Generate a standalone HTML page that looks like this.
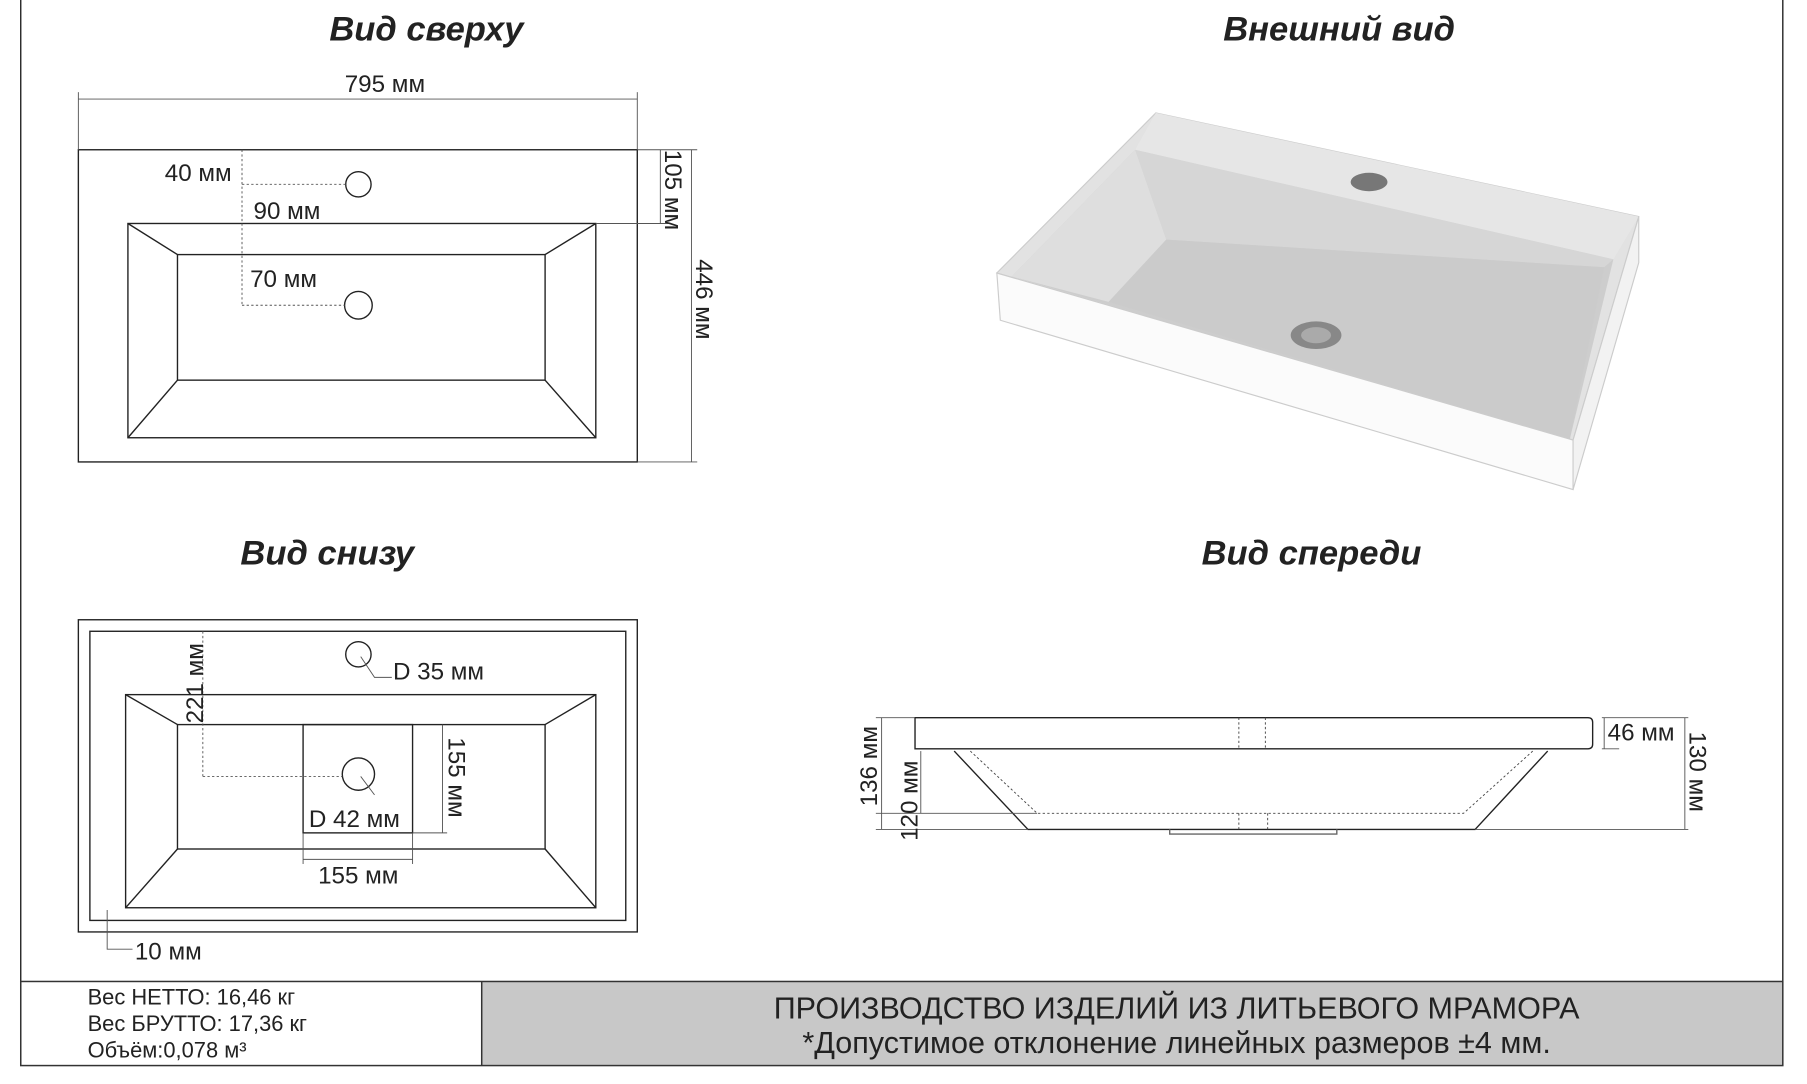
<!DOCTYPE html>
<html><head><meta charset="utf-8"><style>
html,body{margin:0;padding:0;background:#fff;}
svg{display:block;}
text{font-family:"Liberation Sans",sans-serif;fill:#222;}
.t{font-size:30px;font-weight:bold;font-style:italic;}
.d{font-size:21px;}
</style></head><body>
<svg width="1807" height="1084" viewBox="0 0 1568 941" preserveAspectRatio="none" xmlns="http://www.w3.org/2000/svg">
<g fill="none" stroke="#222" stroke-width="1.2">
<line x1="18" y1="0" x2="18" y2="925"/><line x1="1547" y1="0" x2="1547" y2="925"/>
</g>
<rect x="418" y="852" width="1129" height="73" fill="#c8c8c8"/>
<g fill="none" stroke="#333" stroke-width="1.3">
<rect x="18" y="852" width="1529" height="73"/><line x1="418" y1="852" x2="418" y2="925"/>
</g>
<text class="t" x="370" y="35" text-anchor="middle">Вид сверху</text>
<text class="t" x="1162" y="35" text-anchor="middle">Внешний вид</text>
<text class="t" x="284" y="490" text-anchor="middle">Вид снизу</text>
<text class="t" x="1138" y="490" text-anchor="middle">Вид спереди</text>
<!-- top view -->
<g fill="none" stroke="#222" stroke-width="1.2">
<rect x="68" y="130" width="485" height="271"/>
<rect x="111" y="194" width="406" height="186"/>
<rect x="154" y="221" width="319" height="109"/>
<line x1="111" y1="194" x2="154" y2="221"/><line x1="517" y1="194" x2="473" y2="221"/>
<line x1="111" y1="380" x2="154" y2="330"/><line x1="517" y1="380" x2="473" y2="330"/>
<circle cx="311" cy="160" r="11"/><circle cx="311" cy="265" r="12"/>
</g>
<g stroke="#555" stroke-width="0.8" fill="none">
<line x1="68" y1="80" x2="68" y2="130"/><line x1="553" y1="80" x2="553" y2="130"/><line x1="68" y1="86" x2="553" y2="86"/>
<line x1="553" y1="130" x2="605" y2="130"/><line x1="517" y1="194" x2="580" y2="194"/><line x1="553" y1="401" x2="605" y2="401"/>
<line x1="573" y1="130" x2="573" y2="194"/><line x1="600" y1="130" x2="600" y2="401"/>
<line x1="210" y1="130" x2="210" y2="265" stroke-dasharray="2,2"/>
<line x1="210" y1="160" x2="300" y2="160" stroke-dasharray="2,2"/>
<line x1="210" y1="265" x2="299" y2="265" stroke-dasharray="2,2"/>
</g>
<text class="d" x="334" y="80" text-anchor="middle">795 мм</text>
<text class="d" x="143" y="157">40 мм</text>
<text class="d" x="220" y="190">90 мм</text>
<text class="d" x="217" y="249">70 мм</text>
<text class="d" transform="translate(577,130) rotate(90)">105 мм</text>
<text class="d" transform="translate(604,225) rotate(90)">446 мм</text>
<!-- bottom view -->
<g fill="none" stroke="#222" stroke-width="1.2">
<rect x="68" y="538" width="485" height="271"/>
<rect x="78" y="548" width="465" height="251"/>
<rect x="109" y="603" width="408" height="185"/>
<rect x="154" y="629" width="319" height="108"/>
<line x1="109" y1="603" x2="154" y2="629"/><line x1="517" y1="603" x2="473" y2="629"/>
<line x1="109" y1="788" x2="154" y2="737"/><line x1="517" y1="788" x2="473" y2="737"/>
<rect x="263" y="629" width="95" height="94"/>
<circle cx="311" cy="568" r="11"/><circle cx="311" cy="672" r="14"/>
</g>
<g stroke="#555" stroke-width="0.8" fill="none">
<line x1="176" y1="548" x2="176" y2="674" stroke-dasharray="2,2"/>
<line x1="176" y1="674" x2="297" y2="674" stroke-dasharray="2,2"/>
<polyline points="313,570 325,588 340,588"/><polyline points="313,674 325,690"/>
<line x1="384" y1="629" x2="384" y2="723"/><line x1="358" y1="723" x2="388" y2="723"/>
<line x1="263" y1="723" x2="263" y2="750"/><line x1="358" y1="723" x2="358" y2="750"/><line x1="263" y1="746" x2="358" y2="746"/>
<polyline points="93,790 93,824 115,824"/>
</g>
<text class="d" transform="translate(176,628) rotate(-90)">221 мм</text>
<text class="d" x="341" y="590">D 35 мм</text>
<text class="d" x="268" y="718">D 42 мм</text>
<text class="d" transform="translate(389,640) rotate(90)">155 мм</text>
<text class="d" x="276" y="767">155 мм</text>
<text class="d" x="117" y="833">10 мм</text>
<!-- front view -->
<g fill="none" stroke="#222" stroke-width="1.2">
<path d="M794,623 H1378 Q1382,623 1382,627 V646 Q1382,650 1378,650 H794 Z"/>
<polyline points="828,652 892,720 1280,720 1343,652"/>
<polyline points="1015,720 1015,724 1160,724 1160,720" stroke="#666"/>
</g>
<g fill="none" stroke="#444" stroke-width="0.8" stroke-dasharray="2,2">
<polyline points="842,652 900,706 1270,706 1330,652"/>
<line x1="1075" y1="623" x2="1075" y2="650"/><line x1="1098" y1="623" x2="1098" y2="650"/>
<line x1="1075" y1="706" x2="1075" y2="720"/><line x1="1100" y1="706" x2="1100" y2="720"/>
</g>
<g stroke="#555" stroke-width="0.8" fill="none">
<line x1="1390" y1="623" x2="1465" y2="623"/><line x1="1390" y1="650" x2="1405" y2="650"/>
<line x1="1392" y1="623" x2="1392" y2="650"/>
<line x1="1280" y1="720" x2="1465" y2="720"/><line x1="1462" y1="623" x2="1462" y2="720"/>
<line x1="760" y1="623" x2="794" y2="623"/><line x1="760" y1="706" x2="900" y2="706"/><line x1="760" y1="720" x2="892" y2="720"/>
<line x1="765" y1="623" x2="765" y2="720"/><line x1="799" y1="652" x2="799" y2="706"/>
</g>
<text class="d" x="1395" y="643">46 мм</text>
<text class="d" transform="translate(1466,635) rotate(90)">130 мм</text>
<text class="d" transform="translate(761,700) rotate(-90)">136 мм</text>
<text class="d" transform="translate(796,730) rotate(-90)">120 мм</text>
<!-- 3D -->
<polygon points="1003,98 1422,188 1365,382 865,237" fill="#e2e2e2" stroke="#ccc"/>
<polygon points="985,130 1400,225 1362,382 878,240" fill="#cdcdcd"/>
<polygon points="985,130 1400,225 1392,232 1012,208" fill="#d6d6d6"/>
<polygon points="985,130 1012,208 962,262 878,240" fill="#dedede"/>
<polygon points="1012,208 1392,232 1362,382 962,262" fill="#cbcbcb"/>
<polygon points="1003,98 1422,188 1400,225 985,130" fill="#e6e6e6"/>
<polygon points="865,237 1365,382 1365,425 868,278" fill="#fbfbfb" stroke="#ccc"/>
<polygon points="1365,382 1422,188 1422,228 1365,425" fill="#f2f2f2" stroke="#ccc"/>
<ellipse cx="1188" cy="158" rx="16" ry="8" fill="#777"/>
<ellipse cx="1142" cy="291" rx="22" ry="12" fill="#888"/><ellipse cx="1142" cy="291" rx="13" ry="7" fill="#aaa"/>
<!-- footer -->
<text x="76" y="872" style="font-size:19px">Вес НЕТТО: 16,46 кг</text>
<text x="76" y="895" style="font-size:19px">Вес БРУТТО: 17,36 кг</text>
<text x="76" y="918" style="font-size:19px">Объём:0,078 м³</text>
<text x="1021" y="884" text-anchor="middle" style="font-size:26.5px">ПРОИЗВОДСТВО ИЗДЕЛИЙ ИЗ ЛИТЬЕВОГО МРАМОРА</text>
<text x="1021" y="914" text-anchor="middle" style="font-size:26.5px">*Допустимое отклонение линейных размеров ±4 мм.</text>
</svg>
</body></html>
